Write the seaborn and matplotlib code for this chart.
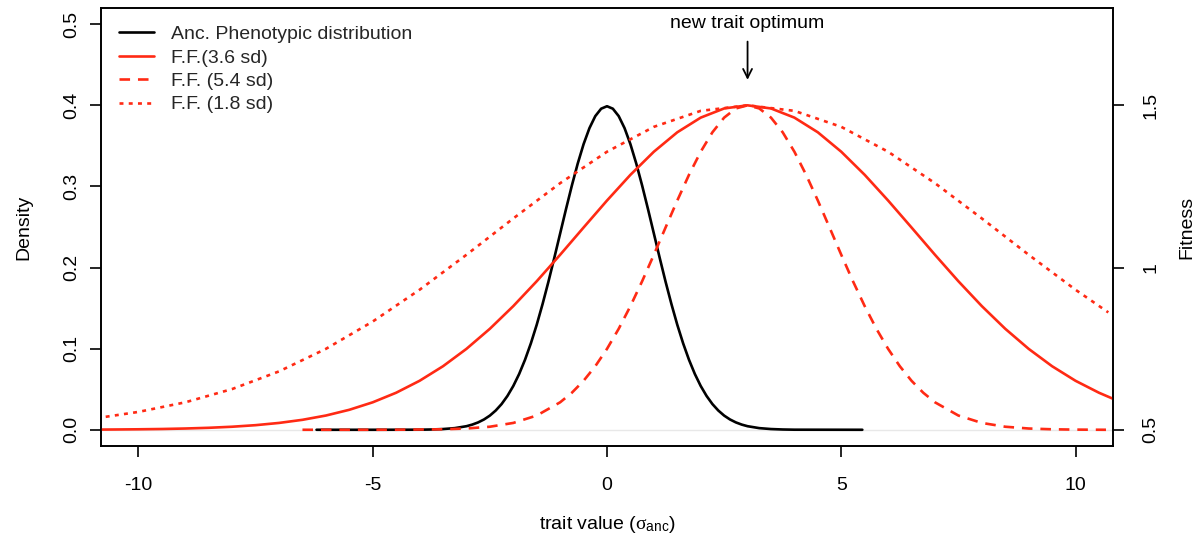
import matplotlib
matplotlib.use("Agg")
import matplotlib.pyplot as plt
from matplotlib.lines import Line2D
import seaborn as sns
import pandas as pd

# ---------------- data ----------------
anc_x = [-6.2, -5.0, -4.0, -3.75, -3.5, -3.25, -3.0, -2.875, -2.75, -2.625, -2.5, -2.375,
         -2.25, -2.125, -2.0, -1.875, -1.75, -1.625, -1.5, -1.375, -1.25, -1.125, -1.0,
         -0.875, -0.75, -0.625, -0.5, -0.375, -0.25, -0.125, 0.0, 0.125, 0.25, 0.375, 0.5,
         0.625, 0.75, 0.875, 1.0, 1.125, 1.25, 1.375, 1.5, 1.625, 1.75, 1.875, 2.0, 2.125,
         2.25, 2.375, 2.5, 2.625, 2.75, 2.875, 3.0, 3.25, 3.5, 3.75, 4.0, 5.45]
anc_density = [0.0, 0.0, 0.0001, 0.00035, 0.0009, 0.00203, 0.0044, 0.0064, 0.0091, 0.01272,
               0.0175, 0.02377, 0.0317, 0.04172, 0.0540, 0.06879, 0.0863, 0.10654, 0.1295,
               0.15502, 0.1826, 0.21188, 0.2420, 0.27205, 0.3011, 0.32816, 0.3521, 0.37186,
               0.3867, 0.39584, 0.3989, 0.39584, 0.3867, 0.37186, 0.3521, 0.32816, 0.3011,
               0.27205, 0.2420, 0.21188, 0.1826, 0.15502, 0.1295, 0.10654, 0.0863, 0.06879,
               0.0540, 0.04172, 0.0317, 0.02377, 0.0175, 0.01272, 0.0091, 0.0064, 0.0044,
               0.00203, 0.0009, 0.00035, 0.0001, 0.0]

ff36_x = [-10.8, -10.5, -10.0, -9.5, -9.0, -8.5, -8.0, -7.5, -7.0, -6.5, -6.0, -5.5, -5.0,
          -4.5, -4.0, -3.5, -3.0, -2.5, -2.0, -1.5, -1.0, -0.5, 0.0, 0.5, 1.0, 1.5, 2.0,
          2.5, 3.0, 3.5, 4.0, 4.5, 5.0, 5.5, 6.0, 6.5, 7.0, 7.5, 8.0, 8.5, 9.0, 9.5, 10.0,
          10.5, 10.8]
ff36_fit = [0.5006, 0.5009, 0.5015, 0.5024, 0.5039, 0.5061, 0.5094, 0.5142, 0.5211, 0.5307,
            0.5439, 0.5616, 0.5847, 0.6142, 0.6510, 0.6959, 0.7494, 0.8113, 0.8812, 0.9578,
            1.0394, 1.1234, 1.2066, 1.2858, 1.3570, 1.4169, 1.4621, 1.4904, 1.5000, 1.4904,
            1.4621, 1.4169, 1.3570, 1.2858, 1.2066, 1.1234, 1.0394, 0.9578, 0.8812, 0.8113,
            0.7494, 0.6959, 0.6510, 0.6142, 0.5956]

ff18_x = [-6.5, -5.5, -4.5, -3.5, -3.0, -2.5, -2.0, -1.5, -1.0, -0.75, -0.5, -0.25, 0.0,
          0.25, 0.5, 0.75, 1.0, 1.25, 1.5, 1.75, 2.0, 2.25, 2.5, 2.75, 3.0, 3.25, 3.5,
          3.75, 4.0, 4.25, 4.5, 4.75, 5.0, 5.25, 5.5, 5.75, 6.0, 6.25, 6.5, 6.75, 7.0,
          7.5, 8.0, 8.5, 9.0, 9.5, 10.0, 10.65]
ff18_fit = [0.5000, 0.5000, 0.5002, 0.5015, 0.5039, 0.5094, 0.5211, 0.5439, 0.5847, 0.6142,
            0.6510, 0.6959, 0.7494, 0.8113, 0.8812, 0.9578, 1.0394, 1.1234, 1.2066, 1.2858,
            1.3570, 1.4169, 1.4621, 1.4904, 1.5000, 1.4904, 1.4621, 1.4169, 1.3570, 1.2858,
            1.2066, 1.1234, 1.0394, 0.9578, 0.8812, 0.8113, 0.7494, 0.6959, 0.6510, 0.6142,
            0.5847, 0.5439, 0.5211, 0.5094, 0.5039, 0.5015, 0.5005, 0.5000]

ff54_x = [-10.7, -10.0, -9.0, -8.0, -7.0, -6.0, -5.0, -4.0, -3.0, -2.0, -1.0, 0.0, 1.0,
          2.0, 3.0, 4.0, 5.0, 6.0, 7.0, 8.0, 9.0, 10.0, 10.7]
ff54_fit = [0.5400, 0.5551, 0.5847, 0.6256, 0.6800, 0.7494, 0.8337, 0.9316, 1.0394, 1.1514,
            1.2601, 1.3570, 1.4337, 1.4830, 1.5000, 1.4830, 1.4337, 1.3570, 1.2601, 1.1514,
            1.0394, 0.9316, 0.8618]

x_ticks = [-10, -5, 0, 5, 10]
density_ticks = [0.0, 0.1, 0.2, 0.3, 0.4, 0.5]
density_labels = ["0.0", "0.1", "0.2", "0.3", "0.4", "0.5"]
fitness_ticks = [0.5, 1.0, 1.5]
fitness_labels = ["0.5", "1", "1.5"]
legend_labels = ["Anc. Phenotypic distribution", "F.F.(3.6 sd)", "F.F. (5.4 sd)", "F.F. (1.8 sd)"]
optimum_x = 3.0

# ---------------- styling ----------------
sns.set_theme(style="white")
plt.rcParams["font.family"] = ["Liberation Sans", "DejaVu Sans"]
plt.rcParams["mathtext.fontset"] = "custom"
plt.rcParams["mathtext.rm"] = "Liberation Serif"
plt.rcParams["mathtext.it"] = "Liberation Serif"
plt.rcParams["mathtext.sf"] = "Liberation Sans"

RED = "#ff2a14"
LW = 1.9
FS = 14
DASHED = (0, (4, 3))
DOTTED = (0, (1.5, 2.0))

fig = plt.figure(figsize=(11.97, 5.39), dpi=100)
ax = fig.add_axes([101 / 1197, 1 - 446 / 539, (1113 - 101) / 1197, (446 - 8) / 539])
ax2 = ax.twinx()

ax.axhline(0, color="#e8e8e8", lw=1.0, zorder=0)

anc_df = pd.DataFrame({"x": anc_x, "y": anc_density})
sns.lineplot(data=anc_df, x="x", y="y", ax=ax, color="black", lw=LW, sort=False)

df36 = pd.DataFrame({"x": ff36_x, "y": ff36_fit})
df18 = pd.DataFrame({"x": ff18_x, "y": ff18_fit})
df54 = pd.DataFrame({"x": ff54_x, "y": ff54_fit})
sns.lineplot(data=df36, x="x", y="y", ax=ax2, color=RED, lw=LW, sort=False)
sns.lineplot(data=df18, x="x", y="y", ax=ax2, color=RED, lw=LW, sort=False, linestyle=DASHED)
sns.lineplot(data=df54, x="x", y="y", ax=ax2, color=RED, lw=LW, sort=False, linestyle=DOTTED)

ax.set_xlim(-10.8, 10.8)
ax.set_ylim(-0.02, 0.52)
ax2.set_ylim(0.45, 1.8)

ax.set_xticks(x_ticks)
ax.set_xticklabels([str(t) for t in x_ticks])
ax.set_yticks(density_ticks)
ax.set_yticklabels(density_labels, rotation=90, va="center")
ax2.set_yticks(fitness_ticks)
ax2.set_yticklabels(fitness_labels, rotation=90, va="center")

for a in (ax, ax2):
    for s in a.spines.values():
        s.set_color("black")
        s.set_linewidth(1.2)
ax.tick_params(axis="x", direction="out", length=8, width=1.2, pad=14, labelsize=FS,
               colors="black", bottom=True)
ax.tick_params(axis="y", direction="out", length=8, width=1.2, pad=7, labelsize=FS,
               colors="black", left=True)
ax2.tick_params(axis="y", direction="out", length=8, width=1.2, pad=13, labelsize=FS,
                colors="black", right=True)

ax.set_xlabel("trait value ($\\sigma_{\\mathsf{anc}}$)", fontsize=FS, labelpad=15, color="black")
ax.set_ylabel("Density", fontsize=FS, labelpad=22, color="black")
ax2.set_ylabel("Fitness", fontsize=FS, labelpad=14, color="black", rotation=90)

ax.annotate("", xy=(optimum_x, 0.428), xytext=(optimum_x, 0.482),
            arrowprops=dict(arrowstyle="->", lw=1.3, color="black", mutation_scale=16))
ax.text(optimum_x, 0.501, "new trait optimum", ha="center", va="center", fontsize=FS,
        color="black")

handles = [
    Line2D([], [], color="black", lw=LW),
    Line2D([], [], color=RED, lw=LW),
    Line2D([], [], color=RED, lw=LW, linestyle=DASHED),
    Line2D([], [], color=RED, lw=LW, linestyle=DOTTED),
]
ax2.legend(handles, legend_labels, loc="upper left", bbox_to_anchor=(0.0, 1.0),
           frameon=False, fontsize=FS, handlelength=1.8, handletextpad=0.88,
           labelspacing=0.3, borderaxespad=0.5)

fig.savefig("out.png", dpi=100)
